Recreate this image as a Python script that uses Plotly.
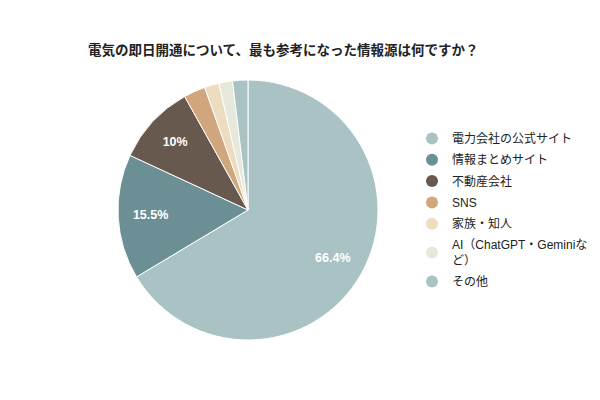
import plotly.graph_objects as go

## Data

title = "電気の即日開通について、最も参考になった情報源は何ですか？"
sources = ["電力会社の公式サイト", "情報まとめサイト", "不動産会社", "SNS",
           "家族・知人", "AI（ChatGPT・Geminiなど）", "その他"]
legend_names = ["電力会社の公式サイト", "情報まとめサイト", "不動産会社", "SNS",
                "家族・知人", "AI（ChatGPT・Geminiな<br>ど）", "その他"]
shares = [66.4, 15.5, 10, 2.7, 1.8, 1.7, 1.9]
colors = ["#a9c2c3", "#6b8f95", "#67594e", "#d2a67c", "#eedcc0", "#e6e8dc", "#a9c2c3"]

labels = [f"{v:g}%" if v >= 5 else "" for v in shares]
# page body has an 8px margin, so positions are set 8px up/left
pie_domain = dict(x=[110 / 600, 370 / 600], y=[68 / 400, 328 / 400])

fig = go.Figure()
# coloured slices
fig.add_trace(go.Pie(
    labels=sources, values=shares, textinfo="none",
    sort=False, direction="clockwise", rotation=0,
    marker=dict(colors=colors, line=dict(color="white", width=1)),
    domain=pie_domain, showlegend=False, hoverinfo="label+percent",
))
# transparent ring on top, only to push the % labels out towards the rim
fig.add_trace(go.Pie(
    labels=sources, values=shares, text=labels, textinfo="text", hole=0.5,
    sort=False, direction="clockwise", rotation=0,
    marker=dict(colors=["rgba(0,0,0,0)"] * len(shares), line=dict(width=0)),
    textfont=dict(family="Arial, Liberation Sans", size=12.5, color="white", weight="bold"),
    insidetextorientation="horizontal", textposition="inside",
    domain=pie_domain, showlegend=False, hoverinfo="skip",
))

# round legend markers, like the original
for name, c in zip(legend_names, colors):
    fig.add_trace(go.Scatter(x=[None], y=[None], mode="markers", name=name,
                             legendgroup=name,
                             marker=dict(color=c, size=12, symbol="circle")))

fig.update_layout(
    width=600, height=400,
    margin=dict(l=0, r=0, t=0, b=0),
    paper_bgcolor="white", plot_bgcolor="white",
    title=dict(text=title, x=80 / 600, xanchor="left", y=1 - 42 / 400, yanchor="middle",
               font=dict(family="Arial, Liberation Sans, Noto Sans CJK JP", size=13.5,
                         color="#222", weight="bold")),
    xaxis=dict(visible=False), yaxis=dict(visible=False),
    legend=dict(x=404 / 600, xanchor="left", y=0.5 - 2 / 400, yanchor="middle",
                font=dict(family="Arial, Liberation Sans, Noto Sans CJK JP", size=12, color="#222"),
                itemsizing="constant", tracegroupgap=2.3, bgcolor="rgba(0,0,0,0)"),
)

fig.write_html("out.html")
